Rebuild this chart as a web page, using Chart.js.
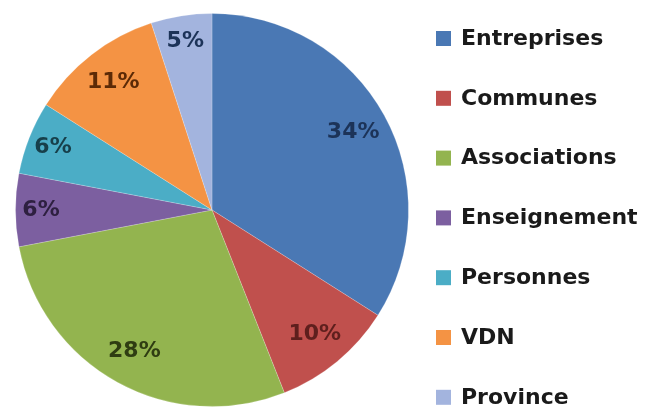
<!DOCTYPE html>
<html>
<head>
<meta charset="utf-8">
<script src="https://cdn.jsdelivr.net/npm/chart.js@4/dist/chart.umd.min.js"></script>
<style>
  html, body { margin: 0; padding: 0; background: #fff; }
  #wrap { width: 650px; height: 407px; position: relative; }
</style>
</head>
<body>
<div id="wrap"><canvas id="chart"></canvas></div>
<script>
const categories = ['Entreprises', 'Communes', 'Associations', 'Enseignement', 'Personnes', 'VDN', 'Province'];
const shares = [34, 10, 28, 6, 6, 11, 5];

const sliceColors = ['#4a78b4', '#c0504d', '#93b44f', '#7c5fa0', '#4badc6', '#f49344', '#a3b4de'];
const labelColors = ['#1c3358', '#5e1f1d', '#2f3d12', '#2e2040', '#173f4a', '#5c2a06', '#1c3358'];

// percentage labels inside the slices
const sliceLabels = {
  id: 'sliceLabels',
  afterDatasetsDraw(chart) {
    const ctx = chart.ctx;
    const meta = chart.getDatasetMeta(0);
    ctx.save();
    ctx.font = 'bold 22px "DejaVu Sans"';
    ctx.textAlign = 'center';
    ctx.textBaseline = 'middle';
    meta.data.forEach((arc, i) => {
      const p = arc.getProps(['x', 'y', 'startAngle', 'endAngle', 'outerRadius'], true);
      const mid = (p.startAngle + p.endAngle) / 2;
      const r = p.outerRadius * (shares[i] < 8 ? 0.87 : 0.82);
      ctx.fillStyle = labelColors[i];
      ctx.fillText(shares[i] + '%', p.x + Math.cos(mid) * r, p.y + Math.sin(mid) * r);
    });
    ctx.restore();
  }
};

// legend drawn at the right, one row per category
const sideLegend = {
  id: 'sideLegend',
  afterDraw(chart) {
    const ctx = chart.ctx;
    ctx.save();
    ctx.font = 'bold 22px "DejaVu Sans"';
    ctx.textBaseline = 'middle';
    categories.forEach((name, i) => {
      const y = 38 + i * 59.8;
      ctx.fillStyle = sliceColors[i];
      ctx.fillRect(436, y - 7, 15, 15);
      ctx.fillStyle = '#1a1a1a';
      ctx.fillText(name, 461, y + 1);
    });
    ctx.restore();
  }
};

new Chart(document.getElementById('chart'), {
  type: 'pie',
  data: {
    labels: categories,
    datasets: [{
      data: shares,
      backgroundColor: sliceColors,
      borderColor: 'rgba(255,255,255,0.2)',
      borderWidth: 1
    }]
  },
  options: {
    responsive: true,
    maintainAspectRatio: false,
    animation: false,
    layout: { padding: { left: 14, right: 240, top: 13, bottom: 0 } },
    plugins: {
      legend: { display: false },
      tooltip: { enabled: false }
    }
  },
  plugins: [sliceLabels, sideLegend]
});
</script>
</body>
</html>
